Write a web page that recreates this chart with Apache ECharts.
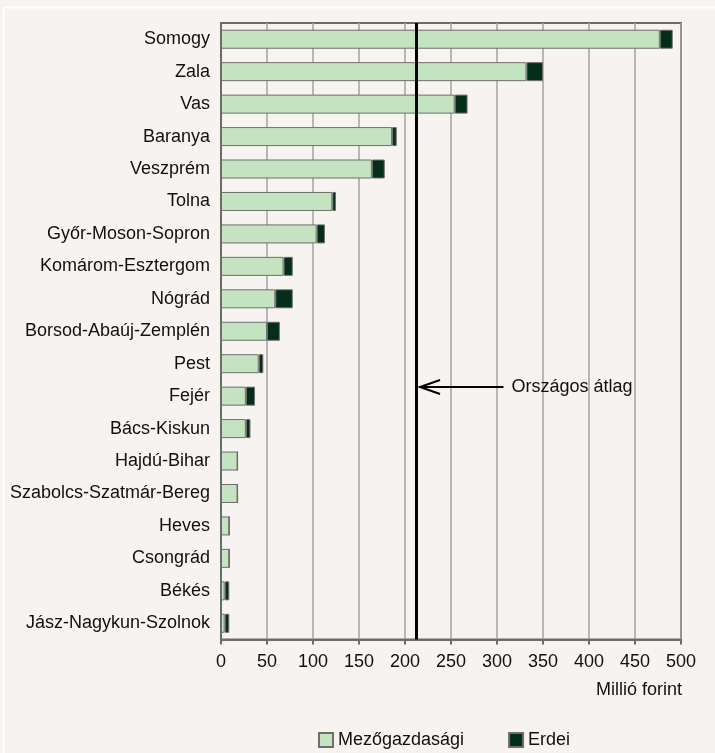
<!DOCTYPE html>
<html>
<head>
<meta charset="utf-8">
<script src="https://cdn.jsdelivr.net/npm/echarts@6/dist/echarts.min.js"></script>
<style>
html,body{margin:0;padding:0;background:#f6f3f0;}
#main{width:715px;height:753px;}
</style>
</head>
<body>
<div id="main"></div>
<script>
const categories = ['Somogy','Zala','Vas','Baranya','Veszprém','Tolna','Győr-Moson-Sopron','Komárom-Esztergom','Nógrád','Borsod-Abaúj-Zemplén','Pest','Fejér','Bács-Kiskun','Hajdú-Bihar','Szabolcs-Szatmár-Bereg','Heves','Csongrád','Békés','Jász-Nagykun-Szolnok'];
const mezogazdasagi = [477,332,254,186,164,121,104,68,59,50,41,27,27,18,18,9,9,4,4];
const erdei = [14,18,14,5,14,4,9,10,19,14,5,10,5,0,0,0,0,5,5];
const orszagosAtlag = 212;
const xTicks = {min:0, max:500, interval:50};
const axisName = 'Millió forint';
const avgLabel = 'Országos átlag';

const FONT = '"Liberation Sans", Arial, sans-serif';
const chart = echarts.init(document.getElementById('main'), null, {renderer:'canvas'});
const option = {
  backgroundColor:'#f6f3f0',
  animation:false,
  textStyle:{fontFamily:FONT},
  grid:{left:221, right:34, top:23, bottom:113.5, show:true, borderColor:'#6b6b6b', borderWidth:2, backgroundColor:'transparent'},
  legend:{
    left:318, top:731, padding:0, itemWidth:14, itemHeight:14, itemGap:44, icon:'rect',
    textStyle:{fontFamily:FONT, fontSize:18, color:'#111'},
    data:['Mezőgazdasági','Erdei']
  },
  xAxis:{
    type:'value', min:xTicks.min, max:xTicks.max, interval:xTicks.interval,
    axisLine:{show:true, lineStyle:{color:'#6b6b6b', width:2}},
    axisTick:{show:true, length:5, lineStyle:{color:'#6b6b6b', width:2}},
    axisLabel:{fontFamily:FONT, fontSize:18, color:'#111', margin:14},
    splitLine:{show:true, lineStyle:{color:'#a3a3a3', width:1.5}}
  },
  yAxis:{
    type:'category', data:categories, inverse:true,
    axisLine:{show:true, lineStyle:{color:'#6b6b6b', width:2}},
    axisTick:{show:false},
    axisLabel:{fontFamily:FONT, fontSize:18, color:'#111', margin:11},
    splitLine:{show:false}
  },
  series:[
    {name:'Mezőgazdasági', type:'bar', stack:'a', data:mezogazdasagi, barWidth:19,
     itemStyle:{color:'#c4e3c0', borderColor:'#6e6e6e', borderWidth:1},
     markLine:{silent:true, symbol:['none','none'], label:{show:false},
       lineStyle:{color:'#000', width:3, type:'solid'},
       data:[{xAxis:orszagosAtlag}]}
    },
    {name:'Erdei', type:'bar', stack:'a', data:erdei, barWidth:19,
     itemStyle:{color:'#052e1a', borderColor:'#6e6e6e', borderWidth:1}}
  ]
};
chart.setOption(option);

// annotation arrow and label positioned via the chart's own scales
const xAvg = chart.convertToPixel({xAxisIndex:0}, orszagosAtlag);
const yPest = chart.convertToPixel({yAxisIndex:0}, 'Pest');
const yFejer = chart.convertToPixel({yAxisIndex:0}, 'Fejér');
const yArr = yPest + (yFejer - yPest) * 0.72;
const tipX = xAvg + 4;
const endX = chart.convertToPixel({xAxisIndex:0}, 307);
chart.setOption({
  graphic:[
    {type:'rect', shape:{x:3.5, y:7.5, width:760, height:800}, style:{fill:'none', stroke:'#ffffff', lineWidth:2}, silent:true, z:100},
    {type:'line', shape:{x1:tipX, y1:yArr, x2:endX, y2:yArr}, style:{stroke:'#000', lineWidth:2}, z:100},
    {type:'polyline', shape:{points:[[tipX+20, yArr-7],[tipX, yArr],[tipX+20, yArr+7]]}, style:{stroke:'#000', lineWidth:2, fill:'none'}, z:100},
    {type:'text', x:endX+8, y:yArr, style:{text:avgLabel, font:'18px '+FONT, fill:'#111', textVerticalAlign:'middle', textAlign:'left'}, z:100},
    {type:'text', right:33, top:681, style:{text:axisName, font:'18px '+FONT, fill:'#111'}, z:100}
  ]
});
</script>
</body>
</html>
